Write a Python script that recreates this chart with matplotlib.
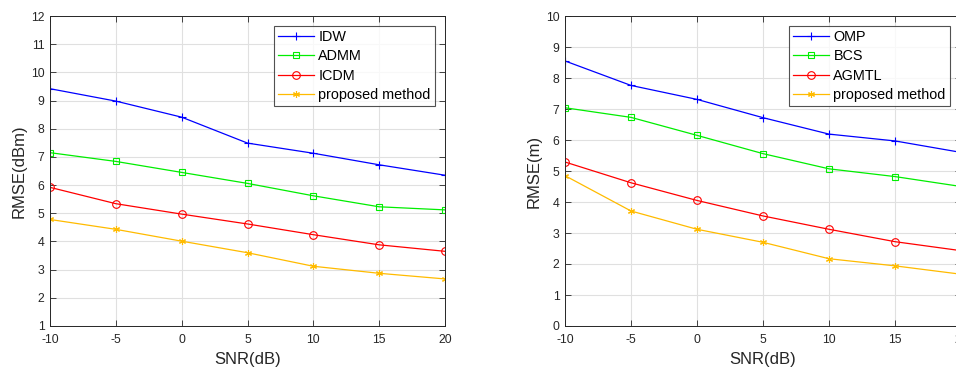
import matplotlib
matplotlib.use("Agg")
import matplotlib.pyplot as plt

plt.rcParams['font.family'] = ['Liberation Sans', 'DejaVu Sans']

snr = [-10, -5, 0, 5, 10, 15, 20]

# Left chart
left_labels = ["IDW", "ADMM", "ICDM", "proposed method"]
idw = [9.42, 8.98, 8.41, 7.49, 7.13, 6.72, 6.35]
admm = [7.15, 6.84, 6.45, 6.06, 5.62, 5.23, 5.12]
icdm = [5.92, 5.34, 4.97, 4.62, 4.24, 3.88, 3.65]
prop_left = [4.78, 4.43, 4.01, 3.60, 3.12, 2.87, 2.67]

# Right chart
right_labels = ["OMP", "BCS", "AGMTL", "proposed method"]
omp = [8.55, 7.76, 7.31, 6.72, 6.19, 5.97, 5.60]
bcs = [7.04, 6.73, 6.15, 5.56, 5.07, 4.82, 4.50]
agmtl = [5.29, 4.62, 4.05, 3.55, 3.12, 2.72, 2.43]
prop_right = [4.85, 3.71, 3.12, 2.70, 2.17, 1.94, 1.67]

colors = ["#0000ff", "#00ee00", "#ff0000", "#ffbb00"]
markers = ["+", "s", "o", (6, 2, 0)]
msizes = [6, 4.5, 5.5, 5]

W, H = 956, 368
fig = plt.figure(figsize=(W / 100, H / 100), dpi=100)


def make_ax(x0, x1, y0, y1):
    return fig.add_axes([x0 / W, 1 - y1 / H, (x1 - x0) / W, (y1 - y0) / H])


def style(ax, ylim, yticks, ylabel):
    ax.set_xlim(-10, 20)
    ax.set_ylim(*ylim)
    ax.set_xticks(snr)
    ax.set_xticklabels([str(v) for v in snr])
    ax.set_yticks(yticks)
    ax.set_yticklabels([str(v) for v in yticks])
    ax.grid(True, color="#e0e0e0", linewidth=0.8)
    ax.set_axisbelow(True)
    ax.tick_params(direction="in", length=4, width=0.6, colors="#262626",
                   labelsize=8.8, top=True, right=True)
    ax.tick_params(axis="x", pad=6)
    ax.tick_params(axis="y", pad=4)
    for s in ax.spines.values():
        s.set_color("#262626")
        s.set_linewidth(0.7)
    ax.set_xlabel("SNR(dB)", fontsize=12, color="#262626", labelpad=4)
    ax.set_ylabel(ylabel, fontsize=12, color="#262626", labelpad=3)


def draw(ax, series, labels):
    for vals, lab, c, m, ms in zip(series, labels, colors, markers, msizes):
        ax.plot(snr, vals, color=c, marker=m, markersize=ms, linewidth=0.9,
                markerfacecolor="none" if m in ("s", "o") else c,
                markeredgecolor=c, markeredgewidth=0.8, label=lab)
    leg = ax.legend(loc="upper right", fontsize=10.4,
                    frameon=True, fancybox=False, edgecolor="#262626",
                    borderpad=0.3, labelspacing=0.37, handlelength=2.5,
                    handletextpad=0.3, borderaxespad=0.6)
    leg.get_frame().set_linewidth(0.8)
    return leg


ax1 = make_ax(50, 445, 16, 326)
leg1 = draw(ax1, [idw, admm, icdm, prop_left], left_labels)
style(ax1, (1, 12), list(range(1, 13)), "RMSE(dBm)")
leg1.set_bbox_to_anchor((435 / W, 1 - 25.7 / H), transform=fig.transFigure)
leg1.borderaxespad = 0

ax2 = make_ax(565, 961, 16, 326)
leg2 = draw(ax2, [omp, bcs, agmtl, prop_right], right_labels)
style(ax2, (0, 10), list(range(0, 11)), "RMSE(m)")
leg2.set_bbox_to_anchor((950 / W, 1 - 25.7 / H), transform=fig.transFigure)
leg2.borderaxespad = 0

fig.savefig("out.png", dpi=100)
